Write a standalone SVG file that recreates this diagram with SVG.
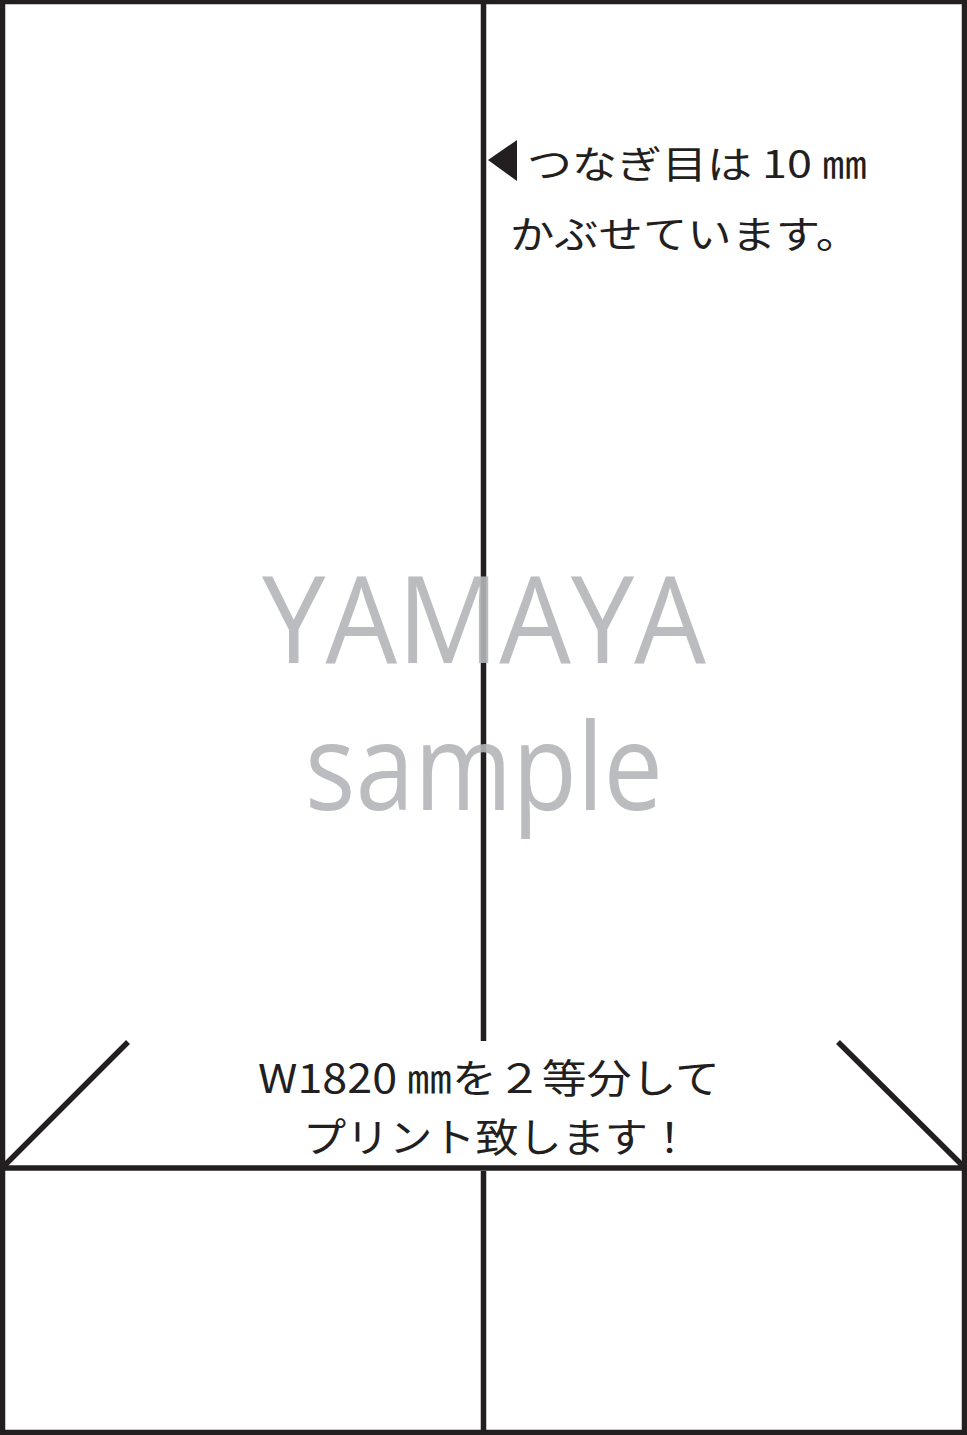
<svg xmlns="http://www.w3.org/2000/svg" width="967" height="1435" viewBox="0 0 967 1435">
<style>
.ln{stroke:#231f20;stroke-width:5.5;fill:none}
.jp{font-family:"Noto Sans CJK JP","Noto Sans",sans-serif;fill:#231f20}
.wm{font-family:"Open Sans","Noto Sans",sans-serif;fill:#b4b5b8;fill-opacity:0.9}
</style>
<rect width="967" height="1435" fill="#fff"/>
<g id="connectors">
<rect class="ln" x="2.5" y="1.5" width="962" height="1431" stroke-width="4.5"/>
<line class="ln" x1="483.5" y1="0" x2="483.5" y2="1041"/>
<line class="ln" x1="483.5" y1="1171" x2="483.5" y2="1435"/>
<line class="ln" x1="0" y1="1168" x2="967" y2="1168"/>
<line class="ln" x1="128" y1="1042" x2="3" y2="1167" stroke-width="4.5"/>
<line class="ln" x1="838" y1="1042" x2="964" y2="1167" stroke-width="4.5"/>
</g>
<g id="note-top">
<polygon points="488,160 517,140 517,181" fill="#231f20"/>
<text class="jp" x="527" y="178" font-size="38" textLength="340" lengthAdjust="spacingAndGlyphs">つなぎ目は 10 ㎜</text>
<text class="jp" x="510" y="248" font-size="38" textLength="350" lengthAdjust="spacingAndGlyphs">かぶせています。</text>
</g>
<g id="watermark">
<text class="wm" x="484" y="663" font-size="120" text-anchor="middle" textLength="444" lengthAdjust="spacingAndGlyphs">YAMAYA</text>
<text class="wm" x="484" y="810" font-size="120" text-anchor="middle" textLength="358" lengthAdjust="spacingAndGlyphs">sample</text>
</g>
<g id="note-bottom">
<text class="jp" x="258" y="1093" font-size="40" textLength="462" lengthAdjust="spacingAndGlyphs">W1820 ㎜を２等分して</text>
<text class="jp" x="303" y="1152" font-size="40" textLength="388" lengthAdjust="spacingAndGlyphs">プリント致します！</text>
</g>
</svg>
